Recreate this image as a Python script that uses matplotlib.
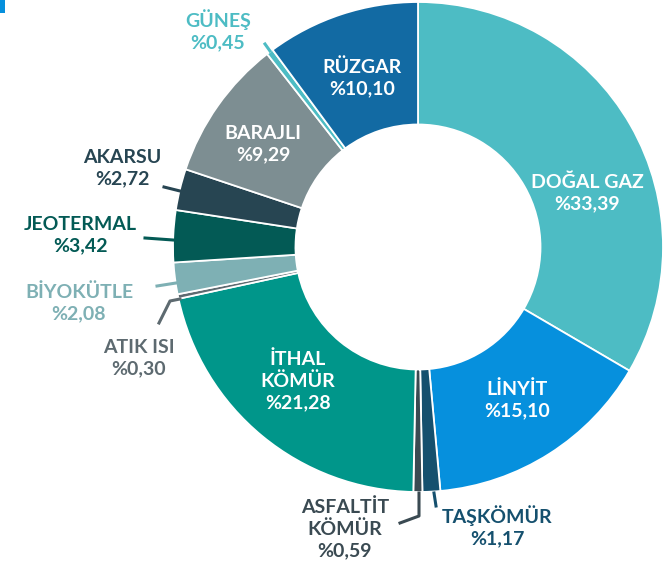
import matplotlib
matplotlib.use("Agg")
import matplotlib.pyplot as plt
from matplotlib.patches import Rectangle

# ---- data ----
categories = ["DOĞAL GAZ", "LİNYİT", "TAŞKÖMÜR", "ASFALTİT\nKÖMÜR", "İTHAL\nKÖMÜR",
              "ATIK ISI", "BİYOKÜTLE", "JEOTERMAL", "AKARSU", "BARAJLI", "GÜNEŞ", "RÜZGAR"]
values = [33.39, 15.10, 1.17, 0.59, 21.28, 0.30, 2.08, 3.42, 2.72, 9.29, 0.45, 10.10]
value_labels = ["%33,39", "%15,10", "%1,17", "%0,59", "%21,28", "%0,30", "%2,08",
                "%3,42", "%2,72", "%9,29", "%0,45", "%10,10"]
colors = ["#4dbcc4", "#0690dd", "#15506e", "#3a4a52", "#00968a", "#5d6a70",
          "#7eb0b4", "#035a55", "#274552", "#7d8e92", "#4dbcc4", "#126aa3"]

W, H = 666, 571
fig = plt.figure(figsize=(W / 100, H / 100), dpi=100)
plt.rcParams['font.family'] = ['Lato', 'DejaVu Sans']

cx, cy, R = 418, 247, 245
ax = fig.add_axes([(cx - R) / W, (H - cy - R) / H, 2 * R / W, 2 * R / H])
ax.pie(values, colors=colors, startangle=90, counterclock=False, radius=1,
       wedgeprops=dict(width=0.5, edgecolor="white", linewidth=1.3))
ax.set_xlim(-1, 1)
ax.set_ylim(-1, 1)
ax.set_aspect("equal")
ax.axis("off")


def fx(px):
    return px / W


def fy(py):
    return 1 - py / H


FS = 14
LS = 1.3
# label placements (pixel centres of the two/three line blocks)
inside = {0: (587, 193), 1: (517, 400), 4: (298, 381), 9: (263, 144), 11: (362, 78)}
outside = {10: (218, 30), 8: (122, 168), 7: (80, 235), 6: (79, 303), 5: (139, 358),
           3: (345, 529), 2: (497, 526)}

for i, (px, py) in inside.items():
    fig.text(fx(px), fy(py), categories[i] + "\n" + value_labels[i], ha="center", va="center",
             color="white", fontsize=FS, fontweight="bold", linespacing=LS)

for i, (px, py) in outside.items():
    fig.text(fx(px), fy(py), categories[i] + "\n" + value_labels[i], ha="center", va="center",
             color=colors[i], fontsize=FS, fontweight="bold", linespacing=LS)

# leader lines (pixel coords)
leaders = {
    10: [(265, 44), (270, 51)],
    8: [(164, 187), (180, 191)],
    7: [(145, 238), (173, 240)],
    6: [(157, 286), (176, 283)],
    5: [(159, 323), (170, 301), (180, 299)],
    3: [(400, 523), (419, 516), (419, 493)],
    2: [(434, 493), (436, 506)],
}
for i, pts in leaders.items():
    xs = [fx(p[0]) for p in pts]
    ys = [fy(p[1]) for p in pts]
    fig.add_artist(plt.Line2D(xs, ys, color=colors[i], lw=2.2, transform=fig.transFigure))

# small corner mark
fig.add_artist(Rectangle((0, fy(13)), fx(5), 13 / H, transform=fig.transFigure,
                         color="#0690dd", lw=0))

fig.savefig("out.png", dpi=100)
